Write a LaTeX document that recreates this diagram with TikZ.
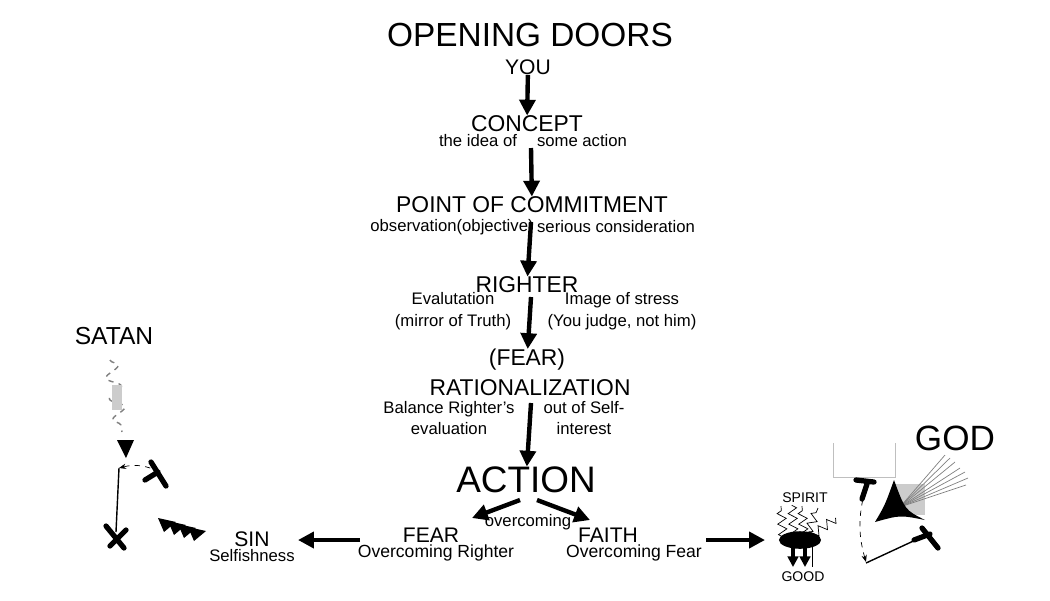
\documentclass[tikz,border=0pt]{standalone}
\usepackage{fontspec}
\setmainfont{Liberation Sans}
\usetikzlibrary{arrows.meta,shapes.geometric,decorations.pathmorphing}
\tikzset{
  big/.style={font=\fontsize{19}{20}\selectfont},
  mid/.style={font=\fontsize{13}{14}\selectfont},
  sml/.style={font=\fontsize{9.5}{10.5}\selectfont},
  flow/.style={line width=2.5pt,-{Triangle[length=9pt,width=9pt]}},
  tee/.style={line width=3pt,line cap=round},
  zig/.style={decorate,decoration={zigzag,amplitude=2.5pt,segment length=6pt}},
}
\begin{document}
\begin{tikzpicture}[x=0.02cm,y=-0.02cm,inner sep=0pt]
  \useasboundingbox (0,0) rectangle (1050,600);
  % main column
  \node[big] (title) at (530,35) {OPENING DOORS};
  \node[mid,font=\fontsize{12}{13}\selectfont] (you) at (528,67) {YOU};
  \node[mid] (concept) at (527,124) {CONCEPT};
  \node[sml] (idea) at (478,141) {the idea of};
  \node[sml] (some) at (582,141) {some action};
  \node[mid] (poc) at (532,205) {POINT OF COMMITMENT};
  \node[sml] (obs) at (452,227) {observation(objective)};
  \node[sml] (serious) at (616,227) {serious consideration};
  \node[mid] (righter) at (527,285) {RIGHTER};
  \node[sml,align=center] (eval) at (453,311) {Evalutation\\[2pt](mirror of Truth)};
  \node[sml,align=center] (image) at (622,311) {Image of stress\\[2pt](You judge, not him)};
  \node[mid] (fear0) at (527,360) {(FEAR)};
  \node[mid] (rational) at (530,388) {RATIONALIZATION};
  \node[sml,align=center] (balance) at (449,418) {Balance Righter's\\[2pt]evaluation};
  \node[sml,align=center] (self) at (584,418) {out of Self-\\[2pt]interest};
  \node[big,font=\fontsize{21}{22}\selectfont] (action) at (526,480) {ACTION};
  \node[sml] (over) at (528,522) {overcoming};
  \node[mid,font=\fontsize{12}{13}\selectfont] (fear) at (431,535) {FEAR};
  \node[sml,font=\fontsize{10}{11}\selectfont] (fearsub) at (436,553) {Overcoming Righter};
  \node[mid,font=\fontsize{12}{13}\selectfont] (faith) at (608,535) {FAITH};
  \node[sml,font=\fontsize{10}{11}\selectfont] (faithsub) at (634,553) {Overcoming Fear};
  \node[mid,font=\fontsize{12}{13}\selectfont] (sin) at (252,539) {SIN};
  \node[sml] (selfish) at (252,556) {Selfishness};
  \node[mid,font=\fontsize{14}{15}\selectfont] (satan) at (114,336) {SATAN};
  \node[big,font=\fontsize{20}{21}\selectfont] (god) at (955,438) {GOD};
  \node[font=\fontsize{8}{9}\selectfont] (spirit) at (805,498) {SPIRIT};
  \node[font=\fontsize{8}{9}\selectfont] (good) at (803,577) {GOOD};
  \coordinate (core) at (800,540);
  % arrows of the column
  \draw[flow] (you) -- (concept);
  \draw[flow] (531,148) -- (poc);
  \draw[flow] (531,222) -- (righter);
  \draw[flow] (531,297) -- (fear0);
  \draw[flow] (531,403) -- (action);
  \draw[flow] (520,500) -- (472,518);
  \draw[flow] (537,500) -- (590,520);
  \draw[flow] (360,540) -- (298,540);
  \draw[flow] (706,540) -- (765,540);
  % satan side
  \draw[gray,dashed,thick,decorate,decoration={snake,amplitude=4pt,segment length=12pt}] (110,360) -- (122,432);
  \fill[gray!40] (112,385) rectangle (122,410);
  \fill (117,440) -- (134,440) -- (126,458) -- cycle;
  \draw[dashed,-{Stealth[length=4pt]}] (160,472) to[bend right=20] (119,468);
  \draw[thick] (119,468) -- (116,532);
  \draw[tee] (145,480) -- (158,472) (151,462) -- (166,486);
  \draw[tee] (106,526) -- (124,548) (110,546) -- (126,530);
  \foreach \i in {0,1,2,3}
    \fill (158+\i*10,518+\i*3) -- (176+\i*10,522+\i*3) -- (164+\i*10,532+\i*3) -- cycle;
  % god side
  \fill (core) ellipse (12pt and 5pt);
  \foreach \a/\b in {781/506,792/505,802/506}
    \draw[zig] (\a+2,537) -- (\a,\b);
  \draw[zig] (806,537) -- (818,508);
  \draw[zig] (810,537) -- (836,518);
  \draw[line width=1.8pt,-{Triangle[length=6pt,width=6pt]}] (793,545) -- (793,567);
  \draw[line width=1.8pt,-{Triangle[length=6pt,width=6pt]}] (805,545) -- (805,567);
  \draw[thin] (812,545) -- (812,567);
  \draw[gray!50] (833,443) -- (833,477) -- (895,477) -- (895,443);
  \fill[gray!40] (893,484) rectangle (925,515);
  \foreach \x/\y in {945/455,950/458,955/462,960/468,965/472,968/478,966/485}
    \draw[gray] (900,507) -- (\x,\y);
  \fill (894,480) .. controls (885,505) .. (875,522) .. controls (900,515) .. (925,520) .. controls (905,510) .. (894,480);
  \draw[dashed,-{Stealth[length=4pt]}] (865,490) to[bend right=15] (866,562);
  \draw[thick] (866,563) -- (922,537);
  \draw[tee] (856,480) -- (874,482) (867,484) -- (862,499);
  \draw[tee] (914,540) -- (930,534) (922,528) -- (938,548);
\end{tikzpicture}
\end{document}
